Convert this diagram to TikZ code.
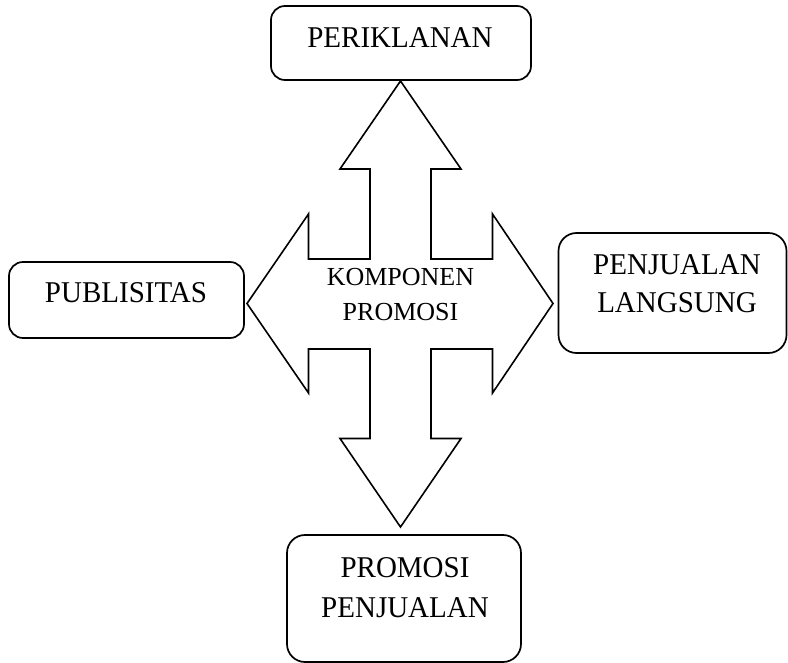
\documentclass[tikz,border=0pt]{standalone}
\usepackage{fontspec}
\setmainfont{Liberation Serif}
\begin{document}
\begin{tikzpicture}[x=1pt,y=-1pt,
  rbox/.style={draw=black,line width=1.7pt,rounded corners=14pt,inner sep=0pt},
  bigbox/.style={rbox,rounded corners=18pt},
  lbl/.style={anchor=base,inner sep=0pt,font=\fontsize{29}{34}\selectfont,yscale=1.04},
  clbl/.style={anchor=base,inner sep=0pt,font=\fontsize{26}{30}\selectfont},
  crossarrow/.style={draw=black,line width=1.6pt,fill=white}]
\useasboundingbox (0,0) rectangle (788,663);
\fill[white] (0,0) rectangle (788,663);
% boxes
\node[rbox,minimum width=260pt,minimum height=74pt] (bper) at (401,43) {};
\node[rbox,minimum width=235pt,minimum height=76pt] (bpub) at (126.5,300) {};
\node[bigbox,minimum width=228pt,minimum height=120pt] (bpl) at (672.5,293) {};
\node[bigbox,minimum width=234pt,minimum height=127pt] (bpp) at (404,598.5) {};
% four-way arrow
\draw[crossarrow] (400.5,81) -- (461,169) -- (431,169) -- (431,259) -- (492.5,259) -- (492.5,214)
  -- (553,303.5) -- (492.5,393) -- (492.5,349) -- (431,349) -- (431,438.5) -- (461,438.5)
  -- (400.5,527) -- (340,438.5) -- (370,438.5) -- (370,349) -- (308.5,349) -- (308.5,393)
  -- (247,303.5) -- (308.5,214) -- (308.5,259) -- (370,259) -- (370,169) -- (340,169) -- cycle;
% texts
\node[lbl] (tper) at (400,47.5) {PERIKLANAN};
\node[lbl] (tpub) at (126,303) {PUBLISITAS};
\node[lbl] (tpl1) at (677,274.5) {PENJUALAN};
\node[lbl] (tpl2) at (677,313) {LANGSUNG};
\node[lbl] (tpp1) at (405,577.5) {PROMOSI};
\node[lbl] (tpp2) at (405,617) {PENJUALAN};
\node[clbl] (tk1) at (400.5,286) {KOMPONEN};
\node[clbl] (tk2) at (400.5,321) {PROMOSI};
\end{tikzpicture}
\end{document}
